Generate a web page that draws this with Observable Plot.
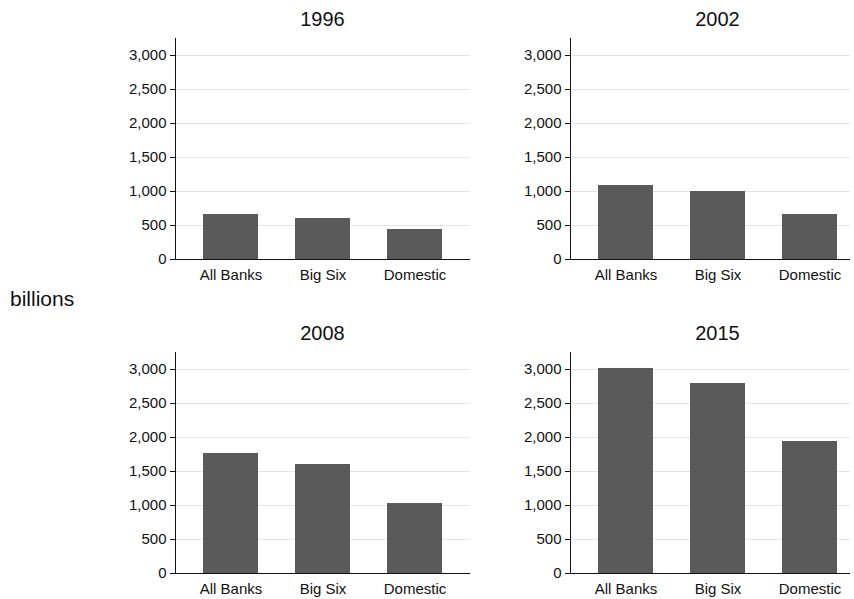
<!DOCTYPE html>
<html><head><meta charset="utf-8">
<script src="https://cdn.jsdelivr.net/npm/d3@7"></script>
<script src="https://cdn.jsdelivr.net/npm/@observablehq/plot@0.6"></script>
<style>
body{margin:0;background:#fff;font-family:"Liberation Sans",Arial,sans-serif;}
#wrap{position:relative;width:854px;height:599px;}
.panel{position:absolute;}
.title{position:absolute;font-size:20px;color:#111;text-align:center;}
#ylab{position:absolute;left:10px;top:287px;font-size:21px;color:#111;}
</style></head><body>
<div id="wrap"><div id="ylab">billions</div></div>
<script>
const years = ["1996", "2002", "2008", "2015"];
const groups = ["All Banks", "Big Six", "Domestic"];
const values = {
  "1996": [662, 603, 441],
  "2002": [1088, 1000, 662],
  "2008": [1765, 1603, 1029],
  "2015": [3015, 2794, 1941],
};
const yTicks = [0, 500, 1000, 1500, 2000, 2500, 3000];

const spots = [
  { left: 100, top: 30, width: 375 },
  { left: 495, top: 30, width: 359 },
  { left: 100, top: 344, width: 375 },
  { left: 495, top: 344, width: 359 },
];
const wrap = document.getElementById("wrap");

years.forEach((yr, i) => {
  const s = spots[i];
  const rows = groups.map((g, j) => ({ group: g, value: values[yr][j] }));
  const ml = 75;
  const t = document.createElement("div");
  t.className = "title"; t.textContent = yr;
  t.style.left = (s.left + ml) + "px"; t.style.width = "295px";
  t.style.top = (s.top - 22) + "px";
  wrap.appendChild(t);
  const chart = Plot.plot({
    width: s.width, height: 256, marginLeft: ml, marginRight: s.width - ml - (i % 2 ? 280 : 295),
    marginTop: 8, marginBottom: 27,
    style: { fontFamily: "Liberation Sans, Arial, sans-serif", fontSize: "15px", color: "#111" },
    x: { domain: groups, range: [ml, ml + 295], paddingInner: 0.4, paddingOuter: 0.3, label: null, tickSize: 0, tickPadding: 10 },
    y: { domain: [0, 3250], ticks: yTicks, tickFormat: d3.format(","), label: null, tickSize: 5, tickPadding: 4 },
    marks: [
      Plot.gridY(yTicks.slice(1), { stroke: "#e4e4e4", strokeOpacity: 1 }),
      Plot.barY(rows, { x: "group", y: "value", fill: "#5a5a5a" }),
      Plot.frame({ anchor: "left", stroke: "#111" }),
      Plot.ruleY([0], { stroke: "#111" }),
    ],
  });
  chart.classList.add("panel");
  chart.style.left = s.left + "px"; chart.style.top = s.top + "px";
  wrap.appendChild(chart);
});
</script>
</body></html>
